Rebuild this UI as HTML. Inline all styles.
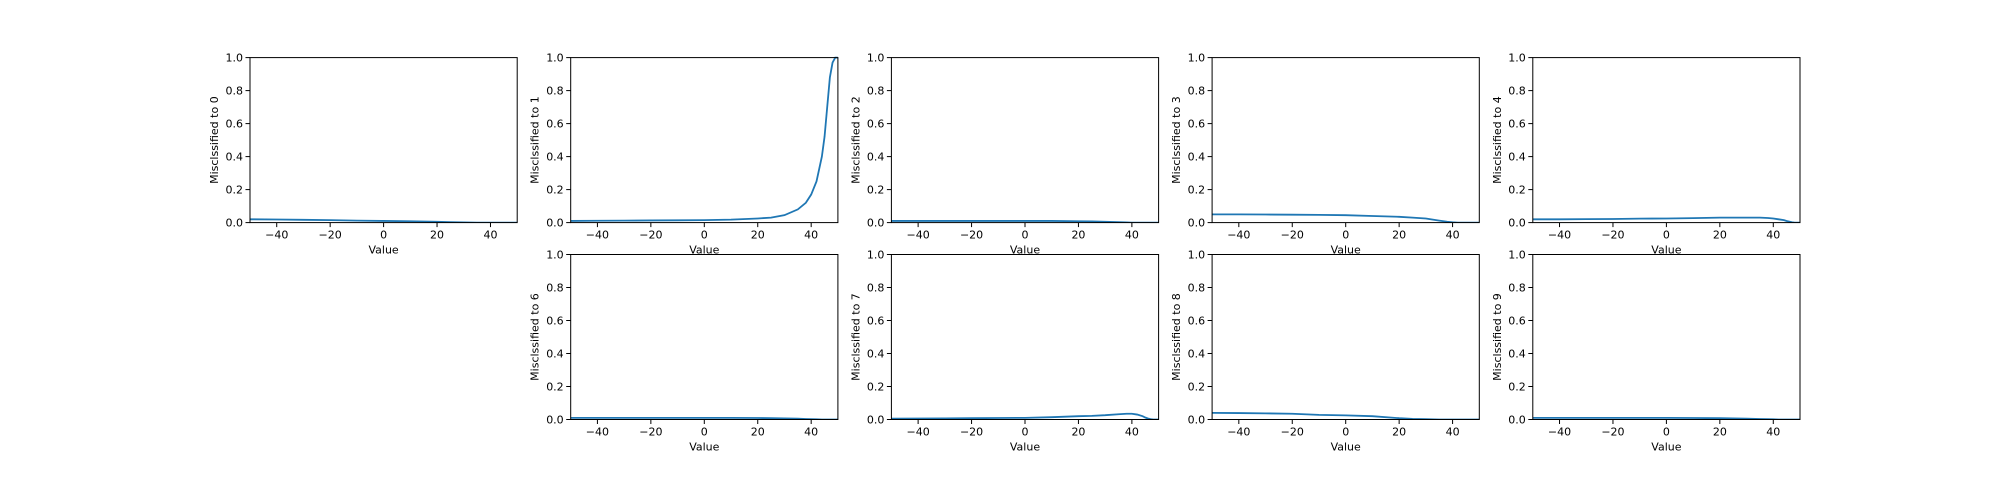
<!DOCTYPE html>
<html><head><meta charset="utf-8"><style>
html,body{margin:0;padding:0;background:#fff}
svg{display:block;font-family:"DejaVu Sans","Liberation Sans",sans-serif}
</style></head><body>
<svg id="fig" width="2000" height="480" viewBox="0 0 2000 480"></svg>
<script>
const xValues = [-50,-40,-30,-20,-10,0,10,20,25,30,35,38,40,42,44,45,46,47,48,49,50];
const classLabels = ["0","1","2","3","4","6","7","8","9"];
const series0 = [0.02,0.019,0.017,0.015,0.012,0.01,0.008,0.005,0.003,0.001,0,0,0,0,0,0,0,0,0,0,0];
const series1 = [0.01,0.011,0.012,0.013,0.014,0.015,0.018,0.025,0.03,0.045,0.08,0.12,0.17,0.25,0.4,0.52,0.7,0.88,0.97,1.0,1.0];
const series2 = [0.01,0.01,0.01,0.01,0.01,0.01,0.01,0.008,0.007,0.005,0.003,0.001,0,0,0,0,0,0,0,0,0];
const series3 = [0.05,0.05,0.049,0.048,0.047,0.045,0.04,0.035,0.03,0.025,0.012,0.005,0.002,0,0,0,0,0,0,0,0];
const series4 = [0.02,0.02,0.021,0.022,0.024,0.025,0.027,0.03,0.03,0.03,0.03,0.028,0.025,0.02,0.015,0.01,0.006,0.002,0,0,0];
const series6 = [0.01,0.01,0.01,0.01,0.01,0.01,0.01,0.009,0.008,0.007,0.005,0.003,0.002,0.001,0,0,0,0,0,0,0];
const series7 = [0.005,0.006,0.007,0.008,0.009,0.01,0.014,0.02,0.022,0.026,0.032,0.035,0.035,0.03,0.02,0.012,0.006,0.002,0,0,0];
const series8 = [0.04,0.039,0.037,0.035,0.028,0.025,0.02,0.008,0.004,0.002,0,0,0,0,0,0,0,0,0,0,0];
const series9 = [0.01,0.01,0.01,0.01,0.01,0.01,0.009,0.008,0.007,0.005,0.003,0.002,0.001,0,0,0,0,0,0,0,0];
const allSeries = [series0,series1,series2,series3,series4,series6,series7,series8,series9];
const xTicks = [-40,-20,0,20,40];
const xTickLabels = ["\u221240","\u221220","0","20","40"];
const yTicks = [0,0.2,0.4,0.6,0.8,1.0];
const yTickLabels = ["0.0","0.2","0.4","0.6","0.8","1.0"];

const NS="http://www.w3.org/2000/svg";
const svg=document.getElementById('fig');
function mk(tag,attrs,parent){const e=document.createElementNS(NS,tag);for(const k in attrs)e.setAttribute(k,attrs[k]);(parent||svg).appendChild(e);return e;}
const W=267.2, H=165, FS=11, colLeft=c=>250+c*(W+53.5), rowTop=r=>r===0?57.6:254.5;
const slots=[[0,0],[0,1],[0,2],[0,3],[0,4],[1,1],[1,2],[1,3],[1,4]];
slots.forEach((s,i)=>{
  const L=colLeft(s[1]), T=rowTop(s[0]);
  const xs=v=>L+(v+50)/100*W, ys=v=>T+H-v*H;
  const g=mk('g',{});
  
  
  const clipId='clip'+i;
  const cp=mk('clipPath',{id:clipId},g);mk('rect',{x:L,y:T-2,width:W,height:H+2},cp);
  const pts=xValues.map((x,j)=>xs(x).toFixed(2)+','+ys(allSeries[i][j]).toFixed(2)).join(' ');
  const line=mk('polyline',{points:pts,fill:'none',stroke:'#1f77b4','stroke-width':1.8,'clip-path':'url(#'+clipId+')'},g);
  
  
  const frame=mk('rect',{x:L,y:T,width:W,height:H,fill:'none',stroke:'#000','stroke-width':1},g);
  
  
  xTicks.forEach((t,k)=>{
    mk('line',{x1:xs(t),x2:xs(t),y1:T+H,y2:T+H+4.5,stroke:'#000','stroke-width':1},g);
    const tx=mk('text',{x:xs(t),y:T+H+16,'font-size':FS,'text-anchor':'middle',fill:'#000'},g);
    tx.textContent=xTickLabels[k];
    
    
  });
  yTicks.forEach((t,k)=>{
    mk('line',{x1:L-4.5,x2:L,y1:ys(t),y2:ys(t),stroke:'#000','stroke-width':1},g);
    const tx=mk('text',{x:L-7,y:ys(t)+4,'font-size':FS,'text-anchor':'end',fill:'#000'},g);
    tx.textContent=yTickLabels[k];
    
    
  });
  const xl=mk('text',{x:L+W/2,y:T+H+31,'font-size':FS,'text-anchor':'middle',fill:'#000'},g);
  xl.textContent='Value';
  
  
  const yx=L-36+4, yy=T+H/2;
  const yl=mk('text',{x:yx,y:yy,'font-size':FS,'text-anchor':'middle',fill:'#000',transform:'rotate(-90 '+yx+' '+yy+')'},g);
  yl.textContent='Misclssified to '+classLabels[i];
  
  
});
</script>
</body></html>
